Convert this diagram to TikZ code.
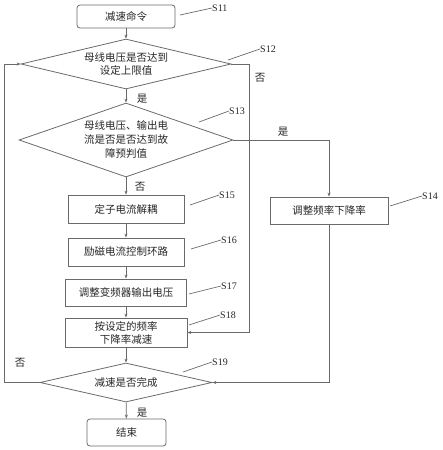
\documentclass[tikz,border=0pt]{standalone}
\usepackage{fontspec}
\setmainfont{Liberation Serif}
\newfontfamily\cjk{Noto Sans CJK SC}
\usetikzlibrary{shapes.geometric,arrows.meta}
\definecolor{ln}{HTML}{6A6A6A}
\begin{document}
\begin{tikzpicture}[x=1pt,y=-1pt,
  every node/.style={font=\cjk\fontsize{10.5}{13}\selectfont, text=black!85},
  box/.style={draw=ln, line width=0.8pt, rectangle, inner sep=0pt, align=center},
  rbox/.style={box, rounded corners=3pt},
  dia/.style={draw=ln, line width=0.8pt, diamond, inner sep=0pt, align=center},
  arr/.style={draw=ln, line width=0.8pt, -{Stealth[length=4pt,width=3pt]}},
  lead/.style={draw=ln, line width=0.7pt},
  lab/.style={font=\fontsize{10}{12}\selectfont, inner sep=0pt, anchor=west},
  yn/.style={font=\cjk\fontsize{10.5}{12}\selectfont, inner sep=0pt}]
\useasboundingbox (0,0) rectangle (443,450);

% main nodes
\node[rbox, minimum width=98, minimum height=23] (s11) at (126,16.5) {减速命令};
\node[dia, minimum width=210, minimum height=50, aspect=4] (s12) at (126,64)
  {母线电压是否达到\\设定上限值};
\node[dia, minimum width=214, minimum height=74, aspect=2.9, font=\cjk\fontsize{10.5}{14}\selectfont] (s13) at (126,140)
  {母线电压、输出电\\流是否是否达到故\\障预判值};
\node[box, minimum width=116, minimum height=28] (s15) at (126,209) {定子电流解耦};
\node[box, minimum width=118, minimum height=27] (s14) at (329,210.5) {调整频率下降率};
\node[box, minimum width=116, minimum height=28] (s16) at (126,252) {励磁电流控制环路};
\node[box, minimum width=121, minimum height=27] (s17) at (126,292.5) {调整变频器输出电压};
\node[box, minimum width=122, minimum height=29] (s18) at (126,332.5) {按设定的频率\\下降率减速};
\node[dia, minimum width=172, minimum height=39, aspect=4] (s19) at (126,382.5) {减速是否完成};
\node[rbox, minimum width=79, minimum height=27] (end) at (126.5,432.5) {结束};

% connectors
\draw[arr] (s11) -- (s12);
\draw[arr] (s12) -- (s13);
\draw[arr] (s13) -- (s15);
\draw[arr] (s15) -- (s16);
\draw[arr] (s16) -- (s17);
\draw[arr] (s17) -- (s18);
\draw[arr] (s18) -- (s19);
\draw[arr] (s19) -- (end);
\coordinate (r12) at (249,332.5);
\draw[arr] (s12.east) -| (r12) -- (s18.east);
\draw[arr] (s13.east) -| (s14.north);
\draw[arr] (s14.south) |- (s19.east);
\coordinate (l19) at (4,64);
\draw[arr] (s19.west) -| (l19) -- (s12.west);

% yes/no labels
\node[yn] (y12) at (142,99) {是};
\node[yn] (n12) at (260,78) {否};
\node[yn] (y13) at (283,132) {是};
\node[yn] (n13) at (140,187) {否};
\node[yn] (n19) at (20,363) {否};
\node[yn] (y19) at (142,413) {是};

% step labels with leader lines
\node[lab] (t11) at (212,8) {S11};
\coordinate (a11) at (180,15);
\draw[lead] (a11) -- (t11.west);
\node[lab] (t12) at (260,49) {S12};
\coordinate (a12) at (228,60);
\draw[lead] (a12) -- (t12.west);
\node[lab] (t13) at (229,111) {S13};
\coordinate (a13) at (199,122);
\draw[lead] (a13) -- (t13.west);
\node[lab] (t15) at (219,195) {S15};
\coordinate (a15) at (190,205);
\draw[lead] (a15) -- (t15.west);
\node[lab] (t14) at (422,196) {S14};
\coordinate (a14) at (390,206);
\draw[lead] (a14) -- (t14.west);
\node[lab] (t16) at (221,240) {S16};
\coordinate (a16) at (191,249);
\draw[lead] (a16) -- (t16.west);
\node[lab] (t17) at (221,286) {S17};
\coordinate (a17) at (189,294);
\draw[lead] (a17) -- (t17.west);
\node[lab] (t18) at (220,315) {S18};
\coordinate (a18) at (189,325);
\draw[lead] (a18) -- (t18.west);
\node[lab] (t19) at (212,362) {S19};
\coordinate (a19) at (183,372);
\draw[lead] (a19) -- (t19.west);
\end{tikzpicture}
\end{document}
